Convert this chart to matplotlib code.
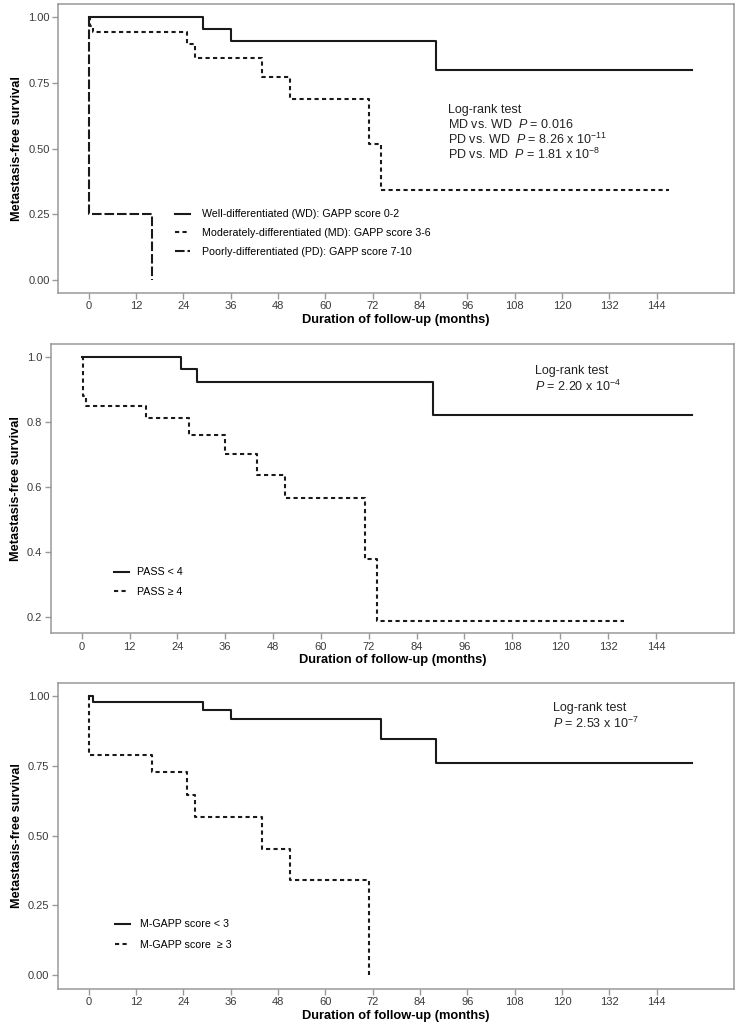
import numpy as np
import matplotlib
matplotlib.use('Agg')
import matplotlib.pyplot as plt

plt.rcParams['font.family'] = ['Liberation Sans', 'DejaVu Sans']
plt.rcParams['mathtext.fontset'] = 'custom'
plt.rcParams['mathtext.rm'] = 'Liberation Sans'
plt.rcParams['mathtext.it'] = 'Liberation Sans:italic'

# Panel A: GAPP grade
wd_t = [0, 29, 36, 88, 153]
wd_s = [1.0, 0.955, 0.911, 0.797, 0.797]
md_t = [0, 0.3, 1, 25, 27, 44, 51, 71, 74, 147]
md_s = [1.0, 0.968, 0.943, 0.898, 0.846, 0.773, 0.690, 0.518, 0.344, 0.344]
pd_t = [0, 0.01, 16]
pd_s = [1.0, 0.25, 0.0]
labels_a = ['Well-differentiated (WD): GAPP score 0-2',
            'Moderately-differentiated (MD): GAPP score 3-6',
            'Poorly-differentiated (PD): GAPP score 7-10']
text_a = ['Log-rank test',
          r'MD vs. WD  $\mathit{P}$ = 0.016',
          r'PD vs. WD  $\mathit{P}$ = 8.26 x 10$^{\mathregular{-11}}$',
          r'PD vs. MD  $\mathit{P}$ = 1.81 x 10$^{\mathregular{-8}}$']

# Panel B: PASS
pl_t = [0, 25, 29, 88, 153]
pl_s = [1.0, 0.963, 0.925, 0.822, 0.822]
ph_t = [0, 0.3, 1, 16, 27, 36, 44, 51, 71, 74, 136]
ph_s = [1.0, 0.882, 0.851, 0.815, 0.761, 0.703, 0.639, 0.568, 0.379, 0.19, 0.19]
labels_b = ['PASS < 4', 'PASS \u2265 4']
text_b = ['Log-rank test', r'$\mathit{P}$ = 2.20 x 10$^{\mathregular{-4}}$']

# Panel C: M-GAPP
ml_t = [0, 1.1, 29, 36, 74, 88, 153]
ml_s = [1.0, 0.98, 0.949, 0.918, 0.847, 0.762, 0.762]
mh_t = [0, 0.2, 16, 25, 27, 44, 51, 71]
mh_s = [1.0, 0.789, 0.728, 0.647, 0.567, 0.452, 0.340, 0.0]
labels_c = ['M-GAPP score < 3', 'M-GAPP score  \u2265 3']
text_c = ['Log-rank test', r'$\mathit{P}$ = 2.53 x 10$^{\mathregular{-7}}$']

xticks = np.arange(0, 145, 12)
grey = '#999999'
ink = '#1a1a1a'
dot = (0, (2.0, 1.6))
dash = (0, (4.6, 1.4))

fig = plt.figure(figsize=(7.42, 10.25), dpi=100)
ax1 = fig.add_axes([0.0782, 0.7141, 0.9111, 0.2820])
ax2 = fig.add_axes([0.0683, 0.3821, 0.9209, 0.2822])
ax3 = fig.add_axes([0.0778, 0.0351, 0.9115, 0.2988])

def style(ax, ylim, yticks, yfmt):
	ax.set_xlim(-7.8, 163.6)
	ax.set_ylim(*ylim)
	ax.set_xticks(xticks)
	ax.set_yticks(yticks)
	ax.set_yticklabels([yfmt % v for v in yticks])
	for sp in ax.spines.values():
		sp.set_color(grey)
		sp.set_linewidth(1.1)
	ax.tick_params(colors=grey, labelcolor='#3a3a3a', labelsize=8, length=4, width=1, pad=2)
	ax.set_xlabel('Duration of follow-up (months)', fontsize=9.3, fontweight='bold', labelpad=2)
	ax.set_ylabel('Metastasis-free survival', fontsize=9.2, fontweight='bold', labelpad=3.5)

def lines(ax, txt, y0, dy):
	for i, s in enumerate(txt):
		ax.text(ax_x[ax], y0 - i*dy, s, transform=ax.transAxes, va='center', ha='left',
			fontsize=9, color='#222222')

ax_x = {ax1: 0.577, ax2: 0.709, ax3: 0.732}

ax1.step(wd_t, wd_s, where='post', color=ink, lw=1.5, label=labels_a[0])
ax1.step(md_t, md_s, where='post', color=ink, lw=1.5, linestyle=dot, label=labels_a[1])
ax1.step(pd_t, pd_s, where='post', color=ink, lw=1.5, linestyle=dash, label=labels_a[2])
style(ax1, (-0.05, 1.05), [0, 0.25, 0.5, 0.75, 1.0], '%.2f')
ax1.legend(loc='center left', bbox_to_anchor=(0.173, 0.2076), frameon=False, fontsize=7.7,
	handlelength=1.4, handletextpad=1.1, labelspacing=0.8, borderpad=0, borderaxespad=0)
lines(ax1, text_a, 0.634, 0.0519)

ax2.step(pl_t, pl_s, where='post', color=ink, lw=1.5, label=labels_b[0])
ax2.step(ph_t, ph_s, where='post', color=ink, lw=1.5, linestyle=dot, label=labels_b[1])
style(ax2, (0.151, 1.041), [0.2, 0.4, 0.6, 0.8, 1.0], '%.1f')
ax2.legend(loc='center left', bbox_to_anchor=(0.0926, 0.177), frameon=False, fontsize=7.7,
	handlelength=1.4, handletextpad=0.75, labelspacing=0.89, borderpad=0, borderaxespad=0)
lines(ax2, text_b, 0.9076, 0.0553)

ax3.step(ml_t, ml_s, where='post', color=ink, lw=1.5, label=labels_c[0])
ax3.step(mh_t, mh_s, where='post', color=ink, lw=1.5, linestyle=dot, label=labels_c[1])
style(ax3, (-0.05, 1.048), [0, 0.25, 0.5, 0.75, 1.0], '%.2f')
ax3.legend(loc='center left', bbox_to_anchor=(0.0847, 0.178), frameon=False, fontsize=7.7,
	handlelength=1.4, handletextpad=0.93, labelspacing=0.98, borderpad=0, borderaxespad=0)
lines(ax3, text_c, 0.9167, 0.050)

plt.savefig('out.png', dpi=100)
